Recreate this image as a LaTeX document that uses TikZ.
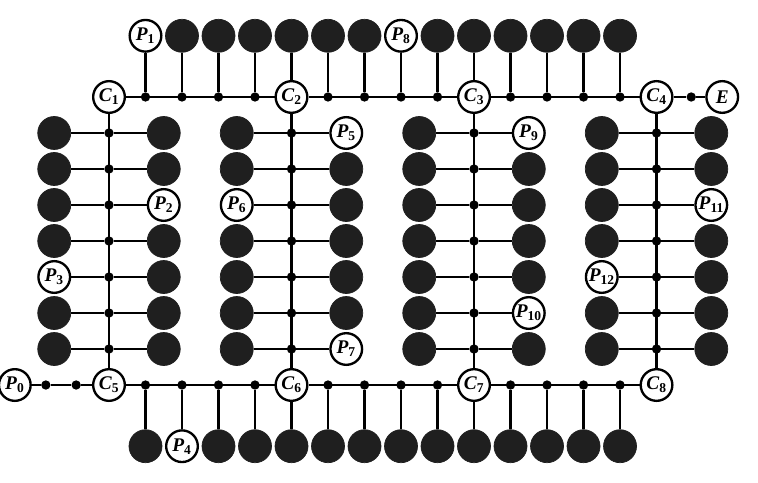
\documentclass[tikz,border=0pt]{standalone}
\usepackage{fontspec}
\setmainfont{Liberation Serif}
\usepackage{xcolor}
\usepackage{tikz}
\usetikzlibrary{positioning}

\definecolor{padgray}{gray}{0.12}
\newcommand{\lbl}[2]{{\bfseries\itshape #1}\textsubscript{\bfseries #2}}

\begin{document}
\begin{tikzpicture}[
  x=1.095cm, y=1.08cm,
  wire/.style={line width=2pt, color=black},
  pad/.style={circle, fill=padgray, draw=padgray, line width=0.6pt, minimum size=0.99cm, inner sep=0pt},
  pnode/.style={circle, draw=black, fill=white, line width=2pt, minimum size=0.95cm, inner sep=0pt,
    font=\fontsize{16.5}{18}\selectfont},
  jdot/.style={circle, fill=black, minimum size=0.28cm, inner sep=0pt}
]
\useasboundingbox (-2.986,2.694) rectangle (17.78,-10.72);

% --- Corner nodes on the two buses ---
\foreach \k/\x in {1/0,2/5,3/10,4/15} {
  \node[pnode] (c\k) at (\x,0) {\lbl{C}{\k}};
}
\foreach \k/\x in {5/0,6/5,7/10,8/15} {
  \node[pnode] (c\k) at (\x,-8) {\lbl{C}{\k}};
}
\node[jdot] (je) at (15.95,0) {};
\node[pnode] (e) at (16.8,0) {\textbf{\textit{E}}};
\node[jdot] (ja) at (-0.9,-8) {};
\node[jdot] (jb) at (-1.73,-8) {};
\node[pnode] (p0) at (-2.58,-8) {\lbl{P}{0}};

% --- Top and bottom rows ---
\foreach \i in {2,3,4,5,6,7,9,10,11,12,13,14} {
  \node[pad] (u\i) at (\i,1.7) {};
}
\foreach \i in {1,3,4,5,6,7,8,9,10,11,12,13,14} {
  \node[pad] (w\i) at (\i,-9.7) {};
}
\node[pnode, alias=u1] (p1) at (1,1.7) {\lbl{P}{1}};
\node[pnode, alias=u8] (p8) at (8,1.7) {\lbl{P}{8}};
\node[pnode, alias=w2] (p4) at (2,-9.7) {\lbl{P}{4}};

\foreach \i in {1,2,3,4,6,7,8,9,11,12,13,14} {
  \node[jdot] (t\i) at (\i,0) {};
  \node[jdot] (b\i) at (\i,-8) {};
  \draw[wire] (t\i) -- (u\i);
  \draw[wire] (b\i) -- (w\i);
}
\draw[wire] (u5) -- (c2);
\draw[wire] (u10) -- (c3);
\draw[wire] (c6) -- (w5);
\draw[wire] (c7) -- (w10);

% --- Buses ---
\draw[wire] (c1) -- (c2) -- (c3) -- (c4) -- (je) -- (e);
\draw[wire] (p0) -- (jb) -- (ja) -- (c5) -- (c6) -- (c7) -- (c8);

% --- Four columns ---
\foreach \k/\x/\lf/\rf in {1/0/{1,2,3,4,6,7}/{1,2,4,5,6,7},
                          2/5/{1,2,4,5,6,7}/{2,3,4,5,6},
                          3/10/{1,2,3,4,5,6,7}/{2,3,4,5,7},
                          4/15/{1,2,3,4,6,7}/{1,2,4,5,6,7}} {
  \foreach \r in \lf { \node[pad] (l\k-\r) at (\x-1.5,-\r) {}; }
  \foreach \r in \rf { \node[pad] (r\k-\r) at (\x+1.5,-\r) {}; }
}
\node[pnode, alias=r1-3] (p2) at (1.5,-3) {\lbl{P}{2}};
\node[pnode, alias=l1-5] (p3) at (-1.5,-5) {\lbl{P}{3}};
\node[pnode, alias=r2-1] (p5) at (6.5,-1) {\lbl{P}{5}};
\node[pnode, alias=l2-3] (p6) at (3.5,-3) {\lbl{P}{6}};
\node[pnode, alias=r2-7] (p7) at (6.5,-7) {\lbl{P}{7}};
\node[pnode, alias=r3-1] (p9) at (11.5,-1) {\lbl{P}{9}};
\node[pnode, alias=r3-6] (p10) at (11.5,-6) {\lbl{P}{10}};
\node[pnode, alias=r4-3] (p11) at (16.5,-3) {\lbl{P}{11}};
\node[pnode, alias=l4-5] (p12) at (13.5,-5) {\lbl{P}{12}};

\foreach \k/\x in {1/0,2/5,3/10,4/15} {
  \foreach \r in {1,...,7} {
    \node[jdot] (d\k-\r) at (\x,-\r) {};
    \draw[wire] (l\k-\r) -- (d\k-\r) -- (r\k-\r);
  }
}
\draw[wire] (c1) -- (c5);
\draw[wire] (c2) -- (c6);
\draw[wire] (c3) -- (c7);
\draw[wire] (c4) -- (c8);

\end{tikzpicture}
\end{document}
